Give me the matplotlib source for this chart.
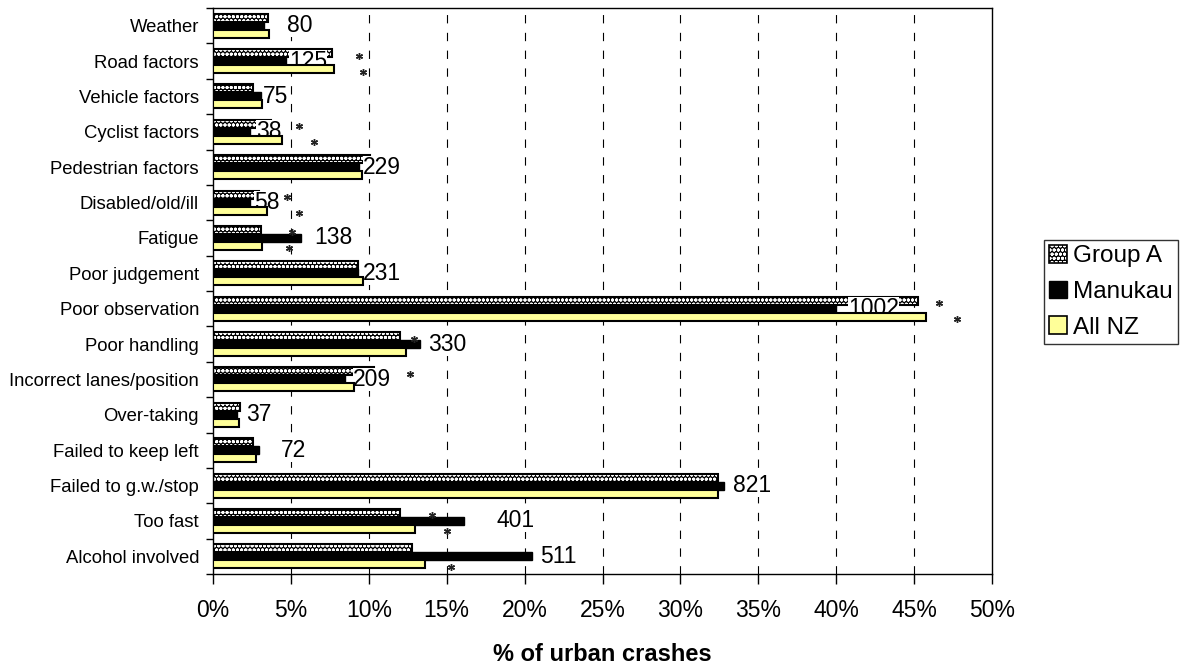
import numpy as np
import matplotlib
matplotlib.use('Agg')
from matplotlib import pyplot as plt
from matplotlib.patches import Patch

plt.rcParams['font.family'] = ['Liberation Sans', 'DejaVu Sans']
plt.rcParams['hatch.linewidth'] = 1.0

# crash factors, top to bottom
factors = ['Weather', 'Road factors', 'Vehicle factors', 'Cyclist factors',
           'Pedestrian factors', 'Disabled/old/ill', 'Fatigue', 'Poor judgement',
           'Poor observation', 'Poor handling', 'Incorrect lanes/position',
           'Over-taking', 'Failed to keep left', 'Failed to g.w./stop',
           'Too fast', 'Alcohol involved']

# % of urban crashes
group_a = [3.5, 7.64, 2.57, 3.72, 10.08, 2.95, 3.07, 9.3, 45.25, 12.0, 10.33, 1.73, 2.57, 32.4, 12.0, 12.77]
manukau = [3.3, 4.7, 3.08, 2.4, 9.4, 2.4, 5.63, 9.3, 40.0, 13.29, 8.47, 1.54, 2.95, 32.8, 16.1, 20.47]
all_nz = [3.6, 7.77, 3.14, 4.43, 9.56, 3.45, 3.13, 9.63, 45.76, 12.39, 9.05, 1.67, 2.76, 32.4, 12.97, 13.6]

# number of Manukau crashes
counts = [80, 125, 75, 38, 229, 58, 138, 231, 1002, 330, 209, 37, 72, 821, 401, 511]

# significance markers (*) shown beside the bars
nan = np.nan
sig_group_a = [nan, 9.37, nan, 5.52, nan, 4.75, 5.07, nan, 46.6, 12.9, 12.64, nan, nan, nan, 14.05, nan]
sig_all_nz = [nan, 9.63, nan, 6.48, nan, 5.52, 4.88, nan, 47.75, nan, nan, nan, nan, nan, 15.0, 15.27]

# how far each count label sits past the Manukau bar
label_nudge = [1.45, 0.2, 0.1, 0.35, 0.25, 0.25, 0.85, 0.3, 0.75, 0.5, 0.5, 0.58, 1.4, 0.6, 2.1, 0.5]

fig = plt.figure(figsize=(11.83, 6.66), dpi=100)
ax = fig.add_axes([213 / 1183, 1 - 574 / 666, (992 - 213) / 1183, (574 - 8) / 666])

y = np.arange(len(factors))
h = 0.226
yellow = '#FFFF99'

# gridlines behind bars
for gx in range(5, 50, 5):
    ax.axvline(gx, color='black', lw=0.8, linestyle=(0, (7.5, 8.5)), zorder=0)

# Group A: patterned bar (white circles on black) + black outline
ax.barh(y - h, group_a, height=h, color='black', edgecolor='white', hatch='oooo', lw=0, zorder=2)
ax.barh(y - h, group_a, height=h, facecolor='none', edgecolor='black', lw=1.5, zorder=2.1)
# Manukau
ax.barh(y, manukau, height=h, color='black', edgecolor='black', lw=1.0, zorder=2)
# All NZ (drawn above the count labels, as in the original)
ax.barh(y + h, all_nz, height=h, color=yellow, edgecolor='black', lw=1.5, zorder=4)

# asterisks
ax.plot(sig_group_a, y - h + 0.07, linestyle='none', marker=(6, 2, 0), ms=5, mew=1.0, color='#222222', zorder=5)
ax.plot(sig_all_nz, y + h + 0.07, linestyle='none', marker=(6, 2, 0), ms=5, mew=1.0, color='#222222', zorder=5)

# count labels
for i in range(len(factors)):
    ax.text(manukau[i] + label_nudge[i], y[i], str(counts[i]), fontsize=16.5,
            ha='left', va='center', zorder=3,
            bbox=dict(boxstyle='square,pad=0.0', facecolor='white', edgecolor='none'))

ax.set_xlim(0, 50)
ax.set_ylim(len(factors) - 0.5, -0.5)
ax.set_xticks(np.arange(0, 51, 5))
ax.set_xticklabels(['%d%%' % v for v in range(0, 51, 5)], fontsize=16.5)
ax.set_yticks(y)
ax.set_yticklabels(factors, fontsize=13.3)
ax.set_yticks(np.arange(-0.5, len(factors), 1), minor=True)
ax.tick_params(axis='y', which='major', length=0, pad=10)
ax.tick_params(axis='y', which='minor', length=5, width=1, direction='out')
ax.tick_params(axis='x', length=7, width=1, direction='out', pad=11)
for s in ax.spines.values():
    s.set_linewidth(1.0)
    s.set_color('black')

ax.set_xlabel('% of urban crashes', fontsize=17, fontweight='bold', labelpad=15)

# legend
ga_handle = (Patch(facecolor='black', edgecolor='white', hatch='oooo', lw=0),
             Patch(facecolor='none', edgecolor='black', lw=1.2))
handles = [ga_handle, Patch(facecolor='black', edgecolor='black'),
           Patch(facecolor=yellow, edgecolor='black', lw=1.2)]
leg = fig.legend(handles, ['Group A', 'Manukau', 'All NZ'], loc='upper left',
                 bbox_to_anchor=(1044 / 1183, 1 - 240 / 666), fontsize=17.5,
                 frameon=True, fancybox=False, handlelength=0.75, handleheight=0.75,
                 handletextpad=0.25, labelspacing=0.55, borderpad=0.2, borderaxespad=0)
leg.get_frame().set_edgecolor('black')
leg.get_frame().set_linewidth(1.0)

fig.savefig('out.png', dpi=100)
